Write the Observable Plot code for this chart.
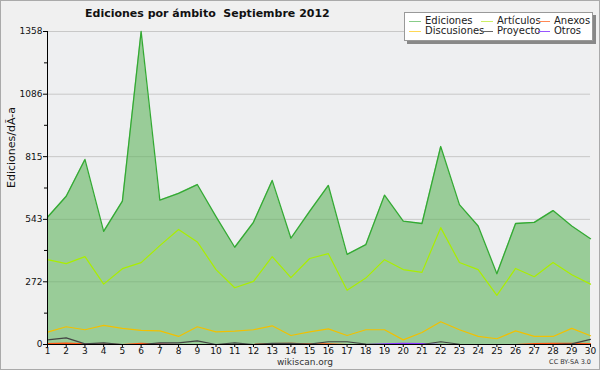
<!DOCTYPE html>
<html><head><meta charset="utf-8">
<script src="https://cdn.jsdelivr.net/npm/d3@7"></script>
<script src="https://cdn.jsdelivr.net/npm/@observablehq/plot@0.6"></script>
<style>
body{margin:0;background:#fff;}
#wrap{position:relative;width:598px;height:368px;border:1px solid #aaa;background:#f0f0f0;font-family:"DejaVu Sans",sans-serif;overflow:hidden;}
#title{position:absolute;left:84px;top:6px;font-size:11px;font-weight:bold;color:#111;white-space:pre;}
#legend{position:absolute;left:403px;top:11px;width:187px;height:27px;background:#fff;border:1px solid #999;box-shadow:3px 3px 0 #888;font-size:10px;color:#222;}
#legend .it{position:absolute;white-space:nowrap;line-height:10px;}
#legend .sw{display:inline-block;width:12px;height:0;border-top:1px solid;vertical-align:middle;margin-right:4px;}
#site{position:absolute;left:276px;top:356px;font-size:9px;color:#333;}
#lic{position:absolute;right:8px;top:357px;font-size:6.5px;color:#333;}
svg{position:absolute;left:0;top:0;}
</style></head>
<body>
<div id="wrap">
  <div id="title"></div>
  <div id="legend"></div>
  <div id="site">wikiscan.org</div>
  <div id="lic">CC BY-SA 3.0</div>
</div>
<script>
const days = d3.range(1, 31);
const ediciones = [552,643,803,491,622,1358,626,656,694,555,422,530,712,461,578,690,391,433,648,535,525,859,607,514,307,525,530,581,514,459];
const articulos = [368,351,381,262,329,355,429,499,445,325,246,274,381,290,373,394,235,288,368,325,313,507,356,325,213,330,294,356,303,262];
const discusiones = [54,77,64,83,70,61,59,35,77,55,58,64,81,39,55,68,39,64,64,20,52,99,64,35,25,59,35,35,70,38];
const proyecto = [20,29,3,7,0,0,7,7,16,0,7,0,5,5,2,12,12,2,0,0,0,12,1,0,0,0,0,0,3,22];
const anexos = [4,6,3,2,0,5,2,0,0,0,0,0,4,5,3,3,0,0,0,0,0,0,0,0,0,0,4,5,5,4];
const otros = [0,2,3,1,0,0,2,0,0,0,0,0,0,0,0,0,0,0,3,5,4,0,0,0,0,0,0,0,0,0];
const yTicks = [0,272,543,815,1086,1358];
const yMinor = [136,408,679,951,1222];
const titleText = "Ediciones por ámbito  Septiembre 2012";
const yLabel = "Ediciones/dÃ-a";

const series = [
  {name:"Ediciones", values:ediciones, color:"#33aa33", legend:"#88cc88"},
  {name:"Artículos", values:articulos, color:"#aaee00", legend:"#ccee66"},
  {name:"Anexos", values:anexos, color:"#ff5511", legend:"#ff8855"},
  {name:"Discusiones", values:discusiones, color:"#f2c000", legend:"#ffd855"},
  {name:"Proyecto", values:proyecto, color:"#444444", legend:"#666666"},
  {name:"Otros", values:otros, color:"#8833ff", legend:"#9955ff"}
];
const rows = series.flatMap(s => s.values.map((v,i) => ({day:days[i], value:v, name:s.name, color:s.color})));
const edRows = rows.filter(r => r.name === "Ediciones");
const drawOrder = ["Otros","Anexos","Proyecto","Discusiones","Artículos"];

document.getElementById("title").textContent = titleText;

const chart = Plot.plot({
  width: 598, height: 368,
  marginLeft: 46, marginRight: 9, marginTop: 30, marginBottom: 25,
  style: {background:"transparent", fontFamily:"DejaVu Sans, sans-serif", fontSize:"9px", color:"#111"},
  x: {domain:[1,30]},
  y: {domain:[0,1358]},
  marks: [
    Plot.frame({fill:"#eeeff1", stroke:null}),
    Plot.gridY(yTicks.slice(1), {stroke:"#c8c8c8", strokeOpacity:1}),
    Plot.areaY(edRows, {x:"day", y:"value", fill:"#60b45e", fillOpacity:0.6}),
    ...drawOrder.map(n => Plot.lineY(rows.filter(r => r.name === n), {x:"day", y:"value", stroke:series.find(s=>s.name===n).color, strokeWidth:1.2})),
    Plot.lineY(edRows, {x:"day", y:"value", stroke:"#33aa33", strokeWidth:1.3}),
    Plot.axisY({ticks:yMinor, tickSize:3, tickFormat:()=>"", label:null, stroke:"#000"}),
    Plot.axisY({ticks:yTicks, tickSize:4, tickPadding:1, tickFormat:d=>String(d), label:null, stroke:"#000", fill:"#111"}),
    Plot.text([yLabel], {frameAnchor:"left", rotate:-90, dx:-36, fontSize:11, fill:"#111"}),
    Plot.axisX({ticks:days, tickSize:3, tickPadding:0, tickFormat:d=>String(d), label:null, stroke:"#000", fill:"#111"}),
    Plot.ruleX([1], {stroke:"#000"}),
    Plot.ruleY([0], {stroke:"#000"})
  ]
});
const wrap = document.getElementById("wrap");
wrap.insertBefore(chart, wrap.firstChild);

const leg = document.getElementById("legend");
const pos = [[4,3],[76,3],[133,3],[4,13],[76,13],[133,13]];
series.forEach((s,i) => {
  const d = document.createElement("div");
  d.className = "it";
  d.style.left = pos[i][0] + "px";
  d.style.top = pos[i][1] + "px";
  d.innerHTML = `<span class="sw" style="border-color:${s.legend}"></span>${s.name}`;
  leg.appendChild(d);
});
</script>
</body></html>
